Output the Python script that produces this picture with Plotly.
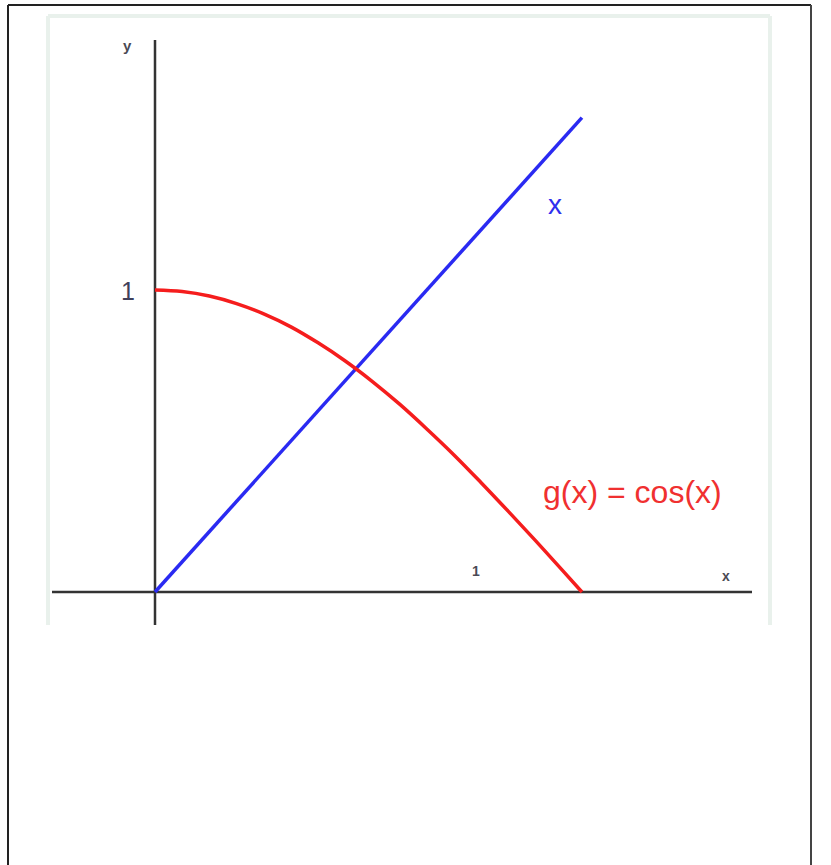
import plotly.graph_objects as go

# ---- data ----
line_x = [0.0, 1.5708]
line_y = [0.0, 1.5708]

cos_x = [0.0, 0.1, 0.2, 0.3, 0.4, 0.5, 0.6, 0.7, 0.8, 0.9, 1.0, 1.1, 1.2, 1.3, 1.4, 1.5, 1.5708]
cos_y = [1.000, 0.995, 0.980, 0.955, 0.921, 0.878, 0.825, 0.765, 0.697, 0.622, 0.540, 0.454, 0.362, 0.267, 0.170, 0.071, 0.000]

W, H = 831, 865
X0_PX, Y0_PX = 155, 592          # pixel position of origin
SX, SY = 271.8, 302.0            # pixels per unit

x_range = [-X0_PX / SX, (W - X0_PX) / SX]
y_range = [-(H - Y0_PX) / SY, Y0_PX / SY]

def dx(px):
    return (px - X0_PX) / SX

def dy(py):
    return (Y0_PX - py) / SY

fig = go.Figure()

fig.add_trace(go.Scatter(x=line_x, y=line_y, mode="lines",
                         line=dict(color="#2a2af2", width=3.5), showlegend=False, hoverinfo="skip"))
fig.add_trace(go.Scatter(x=cos_x, y=cos_y, mode="lines", line_shape="spline",
                         line=dict(color="#f51d1d", width=3.5), showlegend=False, hoverinfo="skip"))

shapes = []
def pl(x0, y0, x1, y1, color, width):
    shapes.append(dict(type="line", xref="paper", yref="paper",
                       x0=x0 / W, y0=1 - y0 / H, x1=x1 / W, y1=1 - y1 / H,
                       line=dict(color=color, width=width), layer="below"))

# outer black frame (open at bottom)
pl(8, 5, 811, 5, "#222222", 2)
pl(8, 5, 8, 866, "#222222", 2)
pl(811, 5, 811, 866, "#444444", 2)
# inner light frame (open at bottom)
pl(48, 16, 770, 16, "#e9f1ec", 4)
pl(48, 16, 48, 625, "#e9f1ec", 4)
pl(770, 16, 770, 625, "#e9f1ec", 4)

# axes lines
shapes.append(dict(type="line", xref="x", yref="y", x0=dx(52), y0=0, x1=dx(752), y1=0,
                   line=dict(color="#333333", width=2.5), layer="below"))
shapes.append(dict(type="line", xref="x", yref="y", x0=0, y0=dy(40), x1=0, y1=dy(625),
                   line=dict(color="#333333", width=2.5), layer="below"))

annotations = [
    dict(x=dx(127), y=dy(45), text="<b>y</b>", font=dict(size=15, color="#4a4a55")),
    dict(x=dx(726), y=dy(576), text="<b>x</b>", font=dict(size=14, color="#4a4a55")),
    dict(x=dx(128), y=dy(291), text="1", font=dict(size=25, color="#40405a")),
    dict(x=dx(476), y=dy(571), text="<b>1</b>", font=dict(size=14, color="#4a4a55")),
    dict(x=dx(555), y=dy(204), text="x", font=dict(size=28, color="#2f2fee")),
    dict(x=dx(632), y=dy(492), text="g(x) = cos(x)", font=dict(size=32, color="#f03030")),
]
for a in annotations:
    a.update(xref="x", yref="y", showarrow=False, xanchor="center", yanchor="middle")
    a["font"]["family"] = "Liberation Sans, Arial, sans-serif"

fig.update_layout(
    width=W, height=H,
    margin=dict(l=0, r=0, t=0, b=0),
    paper_bgcolor="white", plot_bgcolor="white",
    xaxis=dict(range=x_range, visible=False, fixedrange=True),
    yaxis=dict(range=y_range, visible=False, fixedrange=True),
    shapes=shapes, annotations=annotations,
    showlegend=False,
)

fig.write_html("out.html", config=dict(displayModeBar=False),
               post_script="document.body.style.margin='0';document.body.style.overflow='hidden';")
